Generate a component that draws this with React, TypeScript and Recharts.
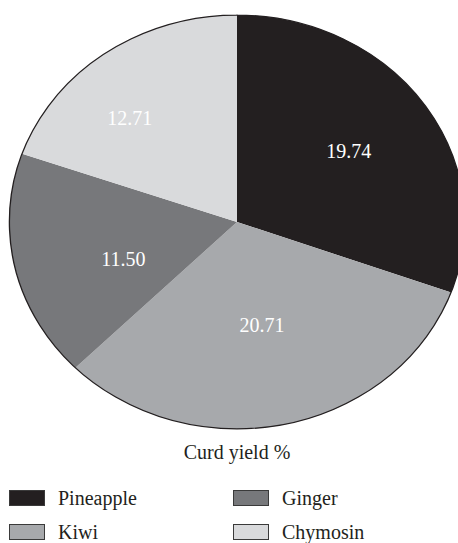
import { PieChart, Pie, Sector, Cell } from "recharts";

const categories = ["Pineapple", "Kiwi", "Ginger", "Chymosin"];
const curdYield = [19.74, 20.71, 11.5, 12.71];
const legendOrder = ["Pineapple", "Ginger", "Kiwi", "Chymosin"];

const COLORS: Record<string, string> = {
  Pineapple: "#231f20",
  Kiwi: "#a7a9ac",
  Ginger: "#77787b",
  Chymosin: "#d9dadc",
};

// label tweaks (radius fraction, angle shift in degrees)
const LABEL_R = [0.6, 0.51, 0.53, 0.69];
const LABEL_SHIFT = [0, 0, 7, 7.7];

const W = 458;
const H = 543;
const CX = 237;
const CY = 222;
const R = 207;
const SX = 1.1; // the pie is slightly wider than tall

const FONT = "'Liberation Serif', 'DejaVu Serif', serif";

const rows = categories.map((name, i) => ({ name, value: curdYield[i] }));
const outline = [{ name: "outline", value: 1 }];

const stretch = (cx: number, cy: number) =>
  `translate(${cx} ${cy}) scale(${SX} 1) translate(${-cx} ${-cy})`;

function StretchedSector(props: any) {
  return (
    <g transform={stretch(props.cx, props.cy)}>
      <Sector {...props} />
    </g>
  );
}

const RAD = Math.PI / 180;

function renderLabel(props: any) {
  const { cx, cy, midAngle, outerRadius, index, value } = props;
  const a = (midAngle + LABEL_SHIFT[index]) * RAD;
  const r = outerRadius * LABEL_R[index];
  const x = cx + SX * r * Math.cos(a);
  const y = cy - r * Math.sin(a);
  return (
    <text
      x={x}
      y={y}
      fill="#ffffff"
      fontSize={20}
      fontFamily={FONT}
      style={{ fontFamily: FONT }}
      textAnchor="middle"
      dominantBaseline="central"
    >
      {value.toFixed(2)}
    </text>
  );
}

function LegendItem({ name, left, top }: { name: string; left: number; top: number }) {
  return (
    <div style={{ position: "absolute", left, top, display: "flex", alignItems: "center", height: 20 }}>
      <span
        style={{
          display: "inline-block",
          width: 34,
          height: 14,
          background: COLORS[name],
          border: "1px solid #3a3a3a",
          marginRight: 13,
        }}
      />
      <span style={{ fontSize: 20, lineHeight: "20px" }}>{name}</span>
    </div>
  );
}

export default function App() {
  return (
    <div
      style={{
        position: "fixed",
        left: 0,
        top: 0,
        width: W,
        height: H,
        background: "#fff",
        overflow: "hidden",
        fontFamily: FONT,
        color: "#231f20",
      }}
    >
      <PieChart width={W} height={430} margin={{ top: 0, right: 0, bottom: 0, left: 0 }}>
        <Pie
          data={rows}
          dataKey="value"
          nameKey="name"
          cx={CX}
          cy={CY}
          outerRadius={R}
          startAngle={90}
          endAngle={-270}
          stroke="none"
          shape={StretchedSector}
          label={renderLabel}
          labelLine={false}
          isAnimationActive={false}
        >
          {rows.map((d) => (
            <Cell key={d.name} fill={COLORS[d.name]} />
          ))}
        </Pie>
        <Pie
          data={outline}
          dataKey="value"
          cx={CX}
          cy={CY}
          innerRadius={R - 0.2}
          outerRadius={R}
          startAngle={90}
          endAngle={-270}
          fill="none"
          stroke="#231f20"
          strokeWidth={1}
          shape={StretchedSector}
          legendType="none"
          isAnimationActive={false}
        />
      </PieChart>
      <div
        style={{
          position: "absolute",
          left: 16,
          top: 441,
          width: W - 16,
          textAlign: "center",
          fontSize: 20,
          lineHeight: "22px",
        }}
      >
        Curd yield %
      </div>
      {legendOrder.map((name, i) => (
        <LegendItem key={name} name={name} left={i % 2 === 0 ? 9 : 233} top={i < 2 ? 488 : 522} />
      ))}
    </div>
  );
}
